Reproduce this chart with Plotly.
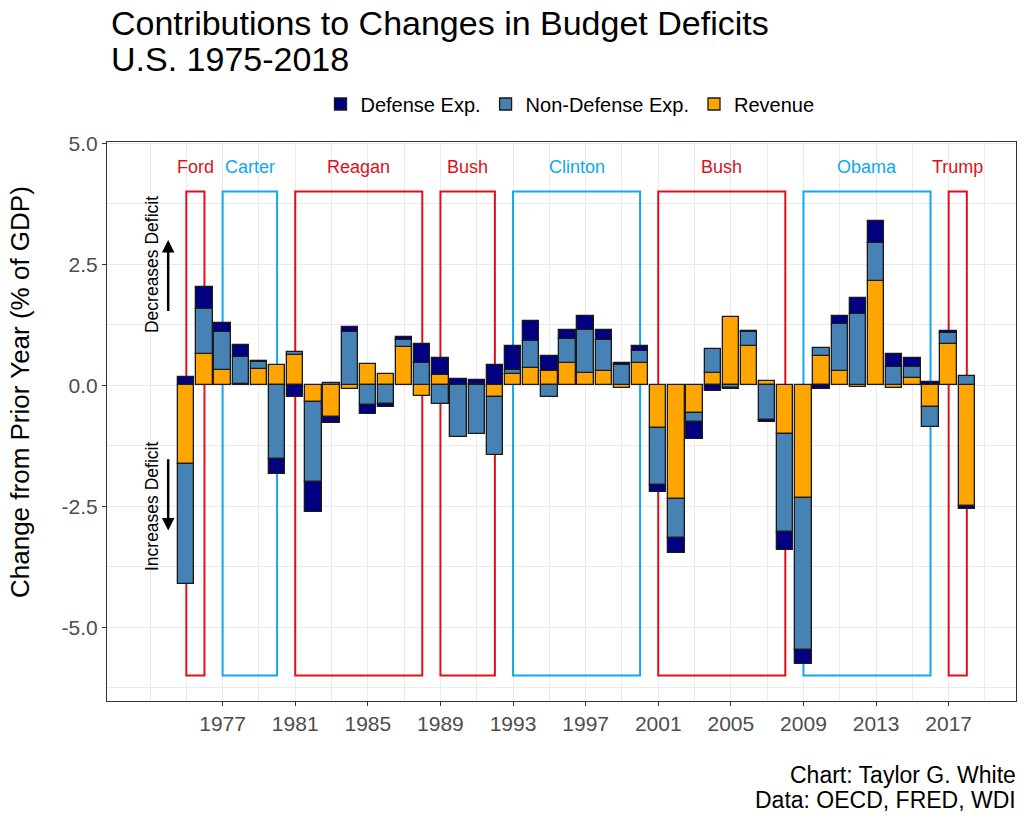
import plotly.graph_objects as go

# contributions to change in budget balance, % of GDP
years = list(range(1975, 2019))
defense = [0.17, 0.44, 0.18, 0.24, 0.03, -0.32, -0.25, -0.61, -0.13, 0.11,
           -0.20, -0.07, 0.06, 0.40, 0.36, 0.12, 0.09, 0.41, 0.49, 0.41,
           0.30, 0.19, 0.28, 0.21, 0.05, 0.10, -0.13, -0.31, -0.36, -0.12,
           -0.02, 0.03, -0.05, -0.36, -0.29, -0.08, 0.16, 0.33, 0.46, 0.28,
           0.19, 0.07, 0.05, -0.05]
non_defense = [-2.48, 0.94, 0.78, 0.56, 0.15, -1.52, 0.06, -1.65, 0.04, 1.09,
               -0.40, -0.38, 0.16, 0.46, -0.38, -1.08, -1.01, -1.21, 0.08, 0.56,
               -0.25, 0.50, 0.89, 0.64, 0.41, 0.26, -1.19, -0.79, -0.19, 0.50,
               -0.06, 0.28, -0.72, -2.04, -3.15, 0.16, 0.96, 1.48, 0.78, 0.37,
               0.22, -0.41, 0.22, 0.19]
revenue = [-1.63, 0.64, 0.32, 0.03, 0.33, 0.41, 0.62, -0.35, -0.65, -0.08,
           0.43, 0.24, 0.78, -0.22, 0.21, 0.01, 0.02, -0.24, 0.24, 0.36,
           0.30, 0.45, 0.26, 0.30, -0.05, 0.45, -0.88, -2.36, -0.57, 0.25,
           1.40, 0.81, 0.09, -1.00, -2.33, 0.60, 0.30, -0.04, 2.16, -0.05,
           0.15, -0.46, 0.85, -2.50]

pres_names = ['Ford', 'Carter', 'Reagan', 'Bush', 'Clinton', 'Bush', 'Obama', 'Trump']
pres_start = [1975, 1977, 1981, 1989, 1993, 2001, 2009, 2017]
pres_end = [1976, 1980, 1988, 1992, 2000, 2008, 2016, 2018]
pres_party = ['R', 'D', 'R', 'R', 'D', 'R', 'D', 'R']

box_bottom = -6
box_top = 4
label_y = 4.5

party_color = {'R': '#E0101A', 'D': '#10A8EE'}

# plot area in pixels (used for text placed outside the axes)
L, R, T, B = 107, 1016, 142, 701
def px(p):
	return (p - L) / (R - L)
def py(p):
	return (B - p) / (B - T)

fig = go.Figure()

series = [
	('Revenue', revenue, '#FFA500'),
	('Non-Defense Exp.', non_defense, '#4682B4'),
	('Defense Exp.', defense, '#000080'),
]
for name, vals, col in series:
	fig.add_trace(go.Bar(
		x=years,
		y=vals,
		name=name,
		width=0.9,
		marker=dict(color=col, line=dict(color='#1A1A1A', width=1.3)),
	))

for name, x0, x1, party in zip(pres_names, pres_start, pres_end, pres_party):
	fig.add_shape(type='rect', x0=x0, x1=x1, y0=box_bottom, y1=box_top,
		xref='x', yref='y', layer='between',
		line=dict(color=party_color[party], width=2))
	fig.add_annotation(x=(x0 + x1) / 2, y=label_y, text=name, showarrow=False,
		xanchor='center', yanchor='middle',
		font=dict(size=18, color=party_color[party]))

# direction hints
fig.add_annotation(x=1973.1, y=2.5, text='Decreases Deficit', textangle=-90,
	xanchor='center', yanchor='middle',
	showarrow=False, font=dict(size=17.5, color='black'))
fig.add_annotation(x=1973.1, y=-2.5, text='Increases Deficit', textangle=-90,
	xanchor='center', yanchor='middle',
	showarrow=False, font=dict(size=17.5, color='black'))
fig.add_annotation(x=1974, y=3.0, ax=1974, ay=1.5, axref='x', ayref='y',
	text='', showarrow=True, arrowhead=2, arrowsize=1, arrowwidth=2.5, arrowcolor='black')
fig.add_annotation(x=1974, y=-3.0, ax=1974, ay=-1.5, axref='x', ayref='y',
	text='', showarrow=True, arrowhead=2, arrowsize=1, arrowwidth=2.5, arrowcolor='black')

# title, two lines
fig.add_annotation(xref='paper', yref='paper', x=px(109), y=py(23),
	xanchor='left', yanchor='middle', showarrow=False,
	text='Contributions to Changes in Budget Deficits',
	font=dict(size=34, color='black'))
fig.add_annotation(xref='paper', yref='paper', x=px(109), y=py(59),
	xanchor='left', yanchor='middle', showarrow=False,
	text='U.S. 1975-2018',
	font=dict(size=34, color='black'))

# y axis title
fig.add_annotation(xref='paper', yref='paper', x=px(20), y=py(392),
	xanchor='center', yanchor='middle',
	text='Change from Prior Year (% of GDP)', textangle=-90, showarrow=False,
	font=dict(size=26, color='black'))

# caption
fig.add_annotation(xref='paper', yref='paper', x=1, y=py(775), xshift=2,
	xanchor='right', yanchor='middle',
	text='Chart: Taylor G. White', showarrow=False, font=dict(size=23, color='black'))
fig.add_annotation(xref='paper', yref='paper', x=1, y=py(800), xshift=2,
	xanchor='right', yanchor='middle',
	text='Data: OECD, FRED, WDI', showarrow=False, font=dict(size=23, color='black'))

grid = '#EBEBEB'
fig.update_layout(
	width=1024, height=819,
	margin=dict(l=L, r=1024 - R, t=T, b=819 - B),
	barmode='relative',
	bargap=0,
	plot_bgcolor='white',
	paper_bgcolor='white',
	font=dict(family='Liberation Sans, Arial, sans-serif', color='black'),
	legend=dict(
		orientation='h', traceorder='reversed',
		x=570 / 1024, xanchor='center', xref='container',
		y=1 - 104 / 819, yanchor='middle', yref='container',
		font=dict(size=20, color='black'),
	),
	xaxis=dict(
		range=[1970.63, 2020.71],
		tickmode='array', tickvals=list(range(1977, 2018, 4)),
		ticks='outside', ticklen=4, tickcolor='#333333',
		tickfont=dict(size=21, color='#4D4D4D'),
		showline=True, mirror=True, linecolor='#333333', linewidth=1,
		showgrid=True, gridcolor=grid, gridwidth=1.3, zeroline=False,
		minor=dict(tickmode='array', tickvals=[1973, 1975] + list(range(1979, 2020, 4)),
			showgrid=True, gridcolor=grid, gridwidth=0.7, ticks=''),
	),
	yaxis=dict(
		range=[-6.525, 5.025],
		tickmode='array', tickvals=[-5, -2.5, 0, 2.5, 5],
		ticktext=['-5.0', '-2.5', '0.0', '2.5', '5.0'],
		ticks='outside', ticklen=4, tickcolor='#333333',
		tickfont=dict(size=21, color='#4D4D4D'),
		showline=True, mirror=True, linecolor='#333333', linewidth=1,
		showgrid=True, gridcolor=grid, gridwidth=1.3, zeroline=False,
		minor=dict(tickmode='array', tickvals=[-6.25, -3.75, -1.25, 1.25, 3.75],
			showgrid=True, gridcolor=grid, gridwidth=0.7, ticks=''),
	),
)

# page body has an 8px default margin; drop it so the figure fills the window
fig.write_html("out.html", config={'displayModeBar': False},
	post_script="document.body.style.margin='0';")
